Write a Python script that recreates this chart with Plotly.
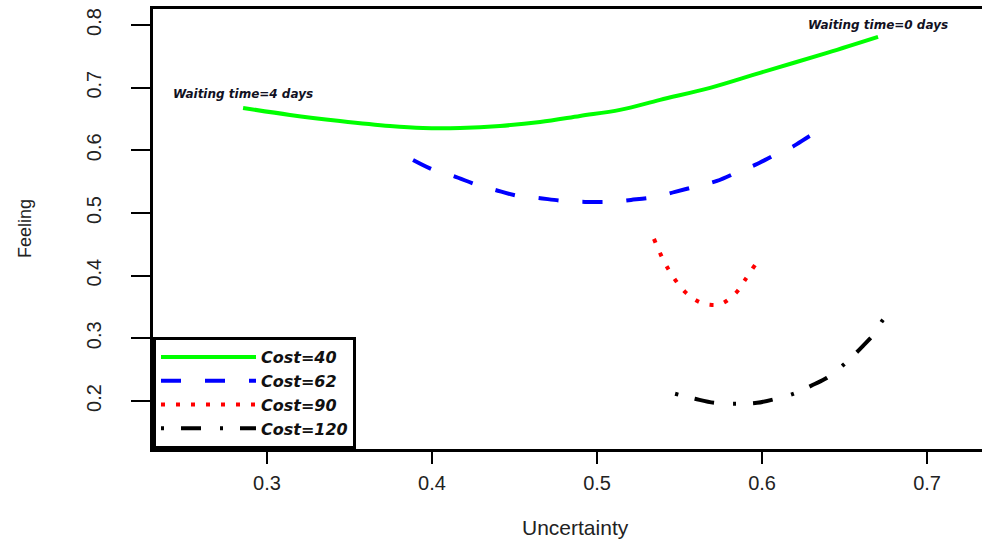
import plotly.graph_objects as go

# ---- data ----
cost40_x = [0.2855, 0.3139, 0.3442, 0.3745, 0.3945, 0.4170, 0.4412, 0.4655, 0.4897,
            0.5139, 0.5382, 0.5685, 0.5988, 0.6394, 0.6703]
cost40_y = [0.6676, 0.6565, 0.6469, 0.6389, 0.6357, 0.6357, 0.6389, 0.6453, 0.6549,
            0.6645, 0.6805, 0.6996, 0.7236, 0.7555, 0.7810]

cost62_x = [0.3885, 0.4024, 0.4127, 0.4273, 0.4382, 0.4521, 0.4642, 0.4794, 0.4927, 0.5079,
            0.5206, 0.5352, 0.5473, 0.5612, 0.5727, 0.5867, 0.5958, 0.6091, 0.6182, 0.6291, 0.6382]
cost62_y = [0.5847, 0.5671, 0.5592, 0.5448, 0.5368, 0.5273, 0.5241, 0.5193, 0.5177, 0.5177,
            0.5209, 0.5257, 0.5337, 0.5432, 0.5512, 0.5671, 0.5767, 0.5943, 0.6054, 0.6230, 0.6357]

cost90_x = [0.5345, 0.5424, 0.5533, 0.5618, 0.5685, 0.5752, 0.5842, 0.5897, 0.5958]
cost90_y = [0.4587, 0.4140, 0.3742, 0.3582, 0.3534, 0.3550, 0.3726, 0.3933, 0.4172]

cost120_x = [0.5473, 0.5594, 0.5709, 0.5842, 0.5970, 0.6085, 0.6206, 0.6309, 0.6394,
             0.6479, 0.6558, 0.6612, 0.6685, 0.6733, 0.6788]
cost120_y = [0.2115, 0.2035, 0.1971, 0.1955, 0.1971, 0.2035, 0.2131, 0.2258, 0.2370,
             0.2545, 0.2737, 0.2880, 0.3088, 0.3295, 0.3423]

series_names = ["Cost=40", "Cost=62", "Cost=90", "Cost=120"]
x_ticks = [0.3, 0.4, 0.5, 0.6, 0.7]
y_ticks = [0.2, 0.3, 0.4, 0.5, 0.6, 0.7, 0.8]
x_title = "Uncertainty"
y_title = "Feeling"
label_start = "Waiting time=4 days"
label_end = "Waiting time=0 days"

fig = go.Figure()
fig.add_trace(go.Scatter(x=cost40_x, y=cost40_y, mode="lines", name=series_names[0],
                         line=dict(color="#00ff00", width=4, shape="spline")))
fig.add_trace(go.Scatter(x=cost62_x, y=cost62_y, mode="lines", name=series_names[1],
                         line=dict(color="#0000ff", width=4, dash="20px,24px", shape="spline")))
fig.add_trace(go.Scatter(x=cost90_x, y=cost90_y, mode="lines", name=series_names[2],
                         line=dict(color="#ff0000", width=4, dash="4px,11px", shape="spline")))
fig.add_trace(go.Scatter(x=cost120_x, y=cost120_y, mode="lines", name=series_names[3],
                         line=dict(color="#000000", width=4, dash="3px,17px,20px,19px", shape="spline")))

ann_font = dict(family="DejaVu Sans", size=12, color="#111122", weight="bold", style="italic")
fig.add_annotation(x=cost40_x[0], y=cost40_y[0], text=label_start, showarrow=False,
                   xanchor="center", yanchor="middle", yshift=14, font=ann_font)
fig.add_annotation(x=cost40_x[-1], y=cost40_y[-1], text=label_end, showarrow=False,
                   xanchor="center", yanchor="middle", yshift=12, font=ann_font)

# axis titles
fig.add_annotation(x=0.5, y=0, xref="paper", yref="paper", text=x_title, showarrow=False,
                   xanchor="center", yanchor="middle", yshift=-78, xshift=8,
                   font=dict(family="Liberation Sans", size=21, color="#222222"))
fig.add_annotation(x=0, y=0.5, xref="paper", yref="paper", text=y_title, showarrow=False,
                   xanchor="center", yanchor="middle", xshift=-128, textangle=-90,
                   font=dict(family="Liberation Sans", size=18, color="#222222"))

fig.update_xaxes(range=[0.2309, 0.7333], tickvals=x_ticks, ticktext=[str(v) for v in x_ticks],
                 showgrid=False, zeroline=False, showline=True, linecolor="black", linewidth=3,
                 mirror=True, ticks="outside", ticklen=12, tickwidth=2, tickcolor="black",
                 ticklabelstandoff=2, automargin=False,
                 tickfont=dict(family="Liberation Sans", size=20, color="#222222"))
fig.update_yaxes(range=[0.1234, 0.8255], tickvals=y_ticks, ticktext=[str(v) for v in y_ticks],
                 showgrid=False, zeroline=False, showline=True, linecolor="black", linewidth=3,
                 mirror=False, ticks="outside", ticklen=19, tickwidth=2, tickcolor="black",
                 tickangle=-90, ticklabelstandoff=22, automargin=False,
                 tickfont=dict(family="Liberation Sans", size=20, color="#222222"))

fig.update_layout(
    width=982, height=541,
    margin=dict(l=153, r=0, t=9, b=92),
    paper_bgcolor="white", plot_bgcolor="white",
    showlegend=True,
    legend=dict(x=0, y=0, xanchor="left", yanchor="bottom", bgcolor="white",
                bordercolor="black", borderwidth=3, itemwidth=95, tracegroupgap=0,
                font=dict(family="DejaVu Sans", size=16, color="#111111", weight="bold", style="italic")),
)

fig.write_html("out.html", config={"displayModeBar": False},
               post_script="document.body.style.margin='0';")
